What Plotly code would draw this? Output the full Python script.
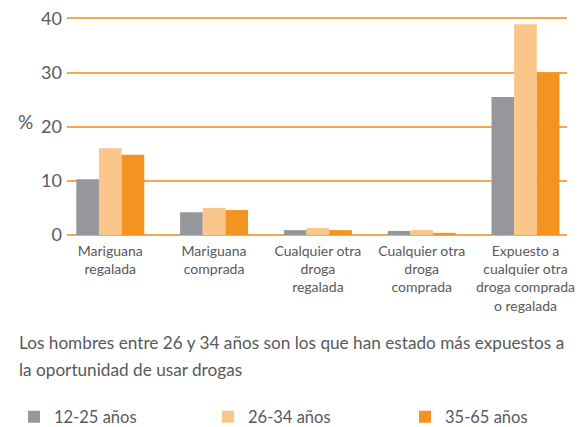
import plotly.graph_objects as go

categories = [
    "Mariguana<br>regalada",
    "Mariguana<br>comprada",
    "Cualquier otra<br>droga<br>regalada",
    "Cualquier otra<br>droga<br>comprada",
    "Expuesto a<br>cualquier otra<br>droga comprada<br>o regalada",
]
series_names = ["12-25 años", "26-34 años", "35-65 años"]
values_12_25 = [10.3, 4.2, 0.9, 0.75, 25.5]
values_26_34 = [16.0, 5.0, 1.3, 0.9, 38.9]
values_35_65 = [14.8, 4.6, 0.9, 0.4, 30.0]
colors = ["#96979b", "#fac68a", "#f39321"]

y_ticks = [0, 10, 20, 30, 40]
caption_line1 = "Los hombres entre 26 y 34 años son los que han estado más expuestos a"
caption_line2 = "la oportunidad de usar drogas"

FONT = "Lato"
TXT = "#58595b"

legend_ids = ["legend", "legend2", "legend3"]
legend_x = [-0.106, 0.282, 0.676]

fig = go.Figure()
for name, vals, col, lg in zip(series_names, [values_12_25, values_26_34, values_35_65], colors, legend_ids):
    fig.add_trace(go.Bar(x=categories, y=vals, name=name, legend=lg,
                         marker=dict(color=col, line=dict(width=0))))

legend_common = dict(orientation="h", xanchor="left", y=-0.82, yanchor="middle",
                     font=dict(family=FONT, size=16.5, color=TXT), bgcolor="rgba(0,0,0,0)")

# The page body adds an 8px margin, so the figure is 8px smaller than the window.
fig.update_layout(
    width=580, height=419,
    margin=dict(l=59, r=21, t=5, b=192, autoexpand=False),
    paper_bgcolor="white", plot_bgcolor="white",
    barmode="group", bargap=0.345, bargroupgap=0,
    font=dict(family=FONT, color=TXT),
    showlegend=True,
    legend=dict(x=legend_x[0], **legend_common),
    legend2=dict(x=legend_x[1], **legend_common),
    legend3=dict(x=legend_x[2], **legend_common),
    xaxis=dict(
        range=[-0.417, 4.4], showgrid=False, showline=False, ticks="",
        tickfont=dict(family=FONT, size=14, color=TXT), fixedrange=True,
        ticklabelstandoff=6,
    ),
    yaxis=dict(
        range=[0, 41], tickvals=y_ticks, showgrid=True, gridcolor="#f6a851", gridwidth=1.5,
        zeroline=True, zerolinecolor="#f6a851", zerolinewidth=1.5, showline=False, ticks="",
        tickfont=dict(family=FONT, size=18, color=TXT), ticklabelstandoff=4,
        ticklabeloverflow="allow",
    ),
    annotations=[
        dict(text="%", xref="paper", yref="paper", x=-0.084, y=0.5135, xanchor="center", yanchor="middle",
             showarrow=False, font=dict(family=FONT, size=19, color=TXT)),
        dict(text=caption_line1, xref="paper", yref="paper", x=-0.1, y=-0.485, xanchor="left", yanchor="middle",
             showarrow=False, font=dict(family=FONT, size=17.2, color=TXT)),
        dict(text=caption_line2, xref="paper", yref="paper", x=-0.1, y=-0.605, xanchor="left", yanchor="middle",
             showarrow=False, font=dict(family=FONT, size=17.2, color=TXT)),
    ],
)

fig.write_html("out.html")
